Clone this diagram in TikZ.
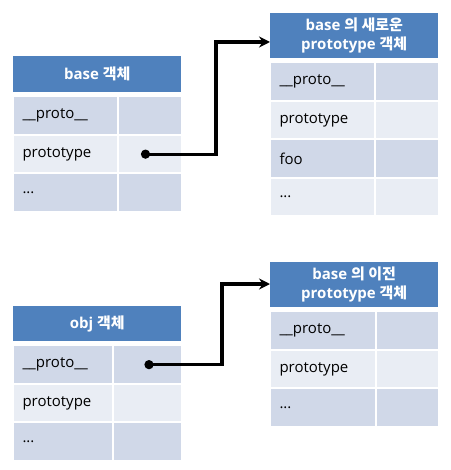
\documentclass[tikz,border=0pt]{standalone}
\usepackage{fontspec}
\setmainfont{Open Sans}
\newfontfamily\kr{Noto Sans CJK KR}
\usetikzlibrary{positioning,arrows.meta}
\definecolor{hdrblue}{HTML}{4F81BD}
\definecolor{rowdark}{HTML}{D0D8E8}
\definecolor{rowlight}{HTML}{E9EDF4}

\begin{document}
\begin{tikzpicture}[
    x=1pt, y=-1pt,
    font=\fontsize{15}{18}\selectfont,
    % Stili delle celle
    hdr/.style={rectangle, fill=hdrblue, text=white, font=\bfseries\fontsize{15}{19.5}\selectfont, align=center, inner sep=0pt, minimum width=168pt, minimum height=#1, anchor=north west},
    keycell/.style={rectangle, draw=white, line width=1pt, inner xsep=9pt, inner ysep=0pt, text width=#1, align=left, minimum height=37.5pt},
    valcell/.style={rectangle, draw=white, line width=1pt, inner sep=0pt, minimum width=#1, minimum height=37.5pt},
    link/.style={line width=3.2pt, {Circle[length=9pt]}-{Stealth[length=11pt,width=11pt]}}
  ]
  \useasboundingbox (0,0) rectangle (450,470);

  % base 객체
  \node (bhead) [hdr=36pt] at (13,56) {base {\kr 객체}};
  \node (bk1) [keycell=86pt, fill=rowdark, below right=4pt and 0pt of bhead.south west] {\_\_proto\_\_};
  \node (bk2) [keycell=86pt, fill=rowlight, below=0pt of bk1] {prototype};
  \node (bk3) [keycell=86pt, fill=rowdark, below=0pt of bk2] {...};
  \node (bv1) [valcell=63pt, fill=rowdark, right=0pt of bk1] {};
  \node (bv2) [valcell=63pt, fill=rowlight, right=0pt of bk2] {};
  \node (bv3) [valcell=63pt, fill=rowdark, right=0pt of bk3] {};

  % base 의 새로운 prototype 객체
  \node (nhead) [hdr=45pt] at (270,13) {base {\kr 의 새로운}\\prototype {\kr 객체}};
  \node (nk1) [keycell=86pt, fill=rowdark, below right=4pt and 0pt of nhead.south west] {\_\_proto\_\_};
  \node (nk2) [keycell=86pt, fill=rowlight, below=0pt of nk1] {prototype};
  \node (nk3) [keycell=86pt, fill=rowdark, below=0pt of nk2] {foo};
  \node (nk4) [keycell=86pt, fill=rowlight, below=0pt of nk3] {...};
  \node (nv1) [valcell=63pt, fill=rowdark, right=0pt of nk1] {};
  \node (nv2) [valcell=63pt, fill=rowlight, right=0pt of nk2] {};
  \node (nv3) [valcell=63pt, fill=rowdark, right=0pt of nk3] {};
  \node (nv4) [valcell=63pt, fill=rowlight, right=0pt of nk4] {};

  % obj 객체
  \node (ohead) [hdr=35pt] at (13,306) {obj {\kr 객체}};
  \node (ok1) [keycell=81pt, fill=rowdark, below right=4pt and 0pt of ohead.south west] {\_\_proto\_\_};
  \node (ok2) [keycell=81pt, fill=rowlight, below=0pt of ok1] {prototype};
  \node (ok3) [keycell=81pt, fill=rowdark, below=0pt of ok2] {...};
  \node (ov1) [valcell=68pt, fill=rowdark, right=0pt of ok1] {};
  \node (ov2) [valcell=68pt, fill=rowlight, right=0pt of ok2] {};
  \node (ov3) [valcell=68pt, fill=rowdark, right=0pt of ok3] {};

  % base 의 이전 prototype 객체
  \node (phead) [hdr=45pt] at (270,262) {base {\kr 의 이전}\\prototype {\kr 객체}};
  \node (pk1) [keycell=87pt, fill=rowdark, below right=4pt and 0pt of phead.south west] {\_\_proto\_\_};
  \node (pk2) [keycell=87pt, fill=rowlight, below=0pt of pk1] {prototype};
  \node (pk3) [keycell=87pt, fill=rowdark, below=0pt of pk2] {...};
  \node (pv1) [valcell=62pt, fill=rowdark, right=0pt of pk1] {};
  \node (pv2) [valcell=62pt, fill=rowlight, right=0pt of pk2] {};
  \node (pv3) [valcell=62pt, fill=rowdark, right=0pt of pk3] {};

  % Collegamenti
  \coordinate (bturn) at (216,42);
  \coordinate (oturn) at (222,284);
  \draw [link] ([xshift=-9pt]bv2.center) -| (bturn) -- (bturn -| nhead.west);
  \draw [link] ([xshift=-3pt]ov1.center) -| (oturn) -- (oturn -| phead.west);
\end{tikzpicture}
\end{document}
